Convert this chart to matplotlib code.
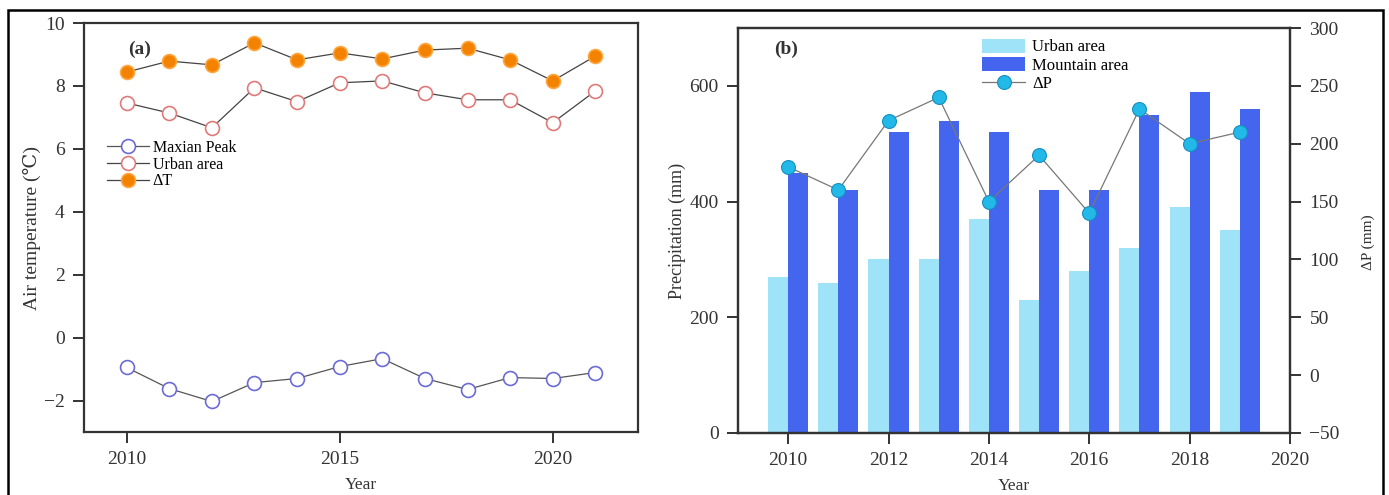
import matplotlib
matplotlib.use("Agg")
import matplotlib.pyplot as plt
from matplotlib.patches import Rectangle

plt.rcParams['font.family'] = ['Liberation Serif', 'DejaVu Serif']

# Panel (a): air temperature
years_a = [2010, 2011, 2012, 2013, 2014, 2015, 2016, 2017, 2018, 2019, 2020, 2021]
maxian = [-0.95, -1.62, -2.03, -1.43, -1.3, -0.92, -0.67, -1.3, -1.65, -1.27, -1.3, -1.11]
urban_t = [7.46, 7.14, 6.67, 7.94, 7.5, 8.1, 8.16, 7.78, 7.56, 7.56, 6.83, 7.84]
delta_t = [8.44, 8.79, 8.67, 9.37, 8.83, 9.05, 8.86, 9.14, 9.2, 8.83, 8.16, 8.95]

# Panel (b): precipitation
years_b = [2010, 2011, 2012, 2013, 2014, 2015, 2016, 2017, 2018, 2019]
urban_p = [270, 260, 300, 300, 370, 230, 280, 320, 390, 350]
mountain_p = [450, 420, 520, 540, 520, 420, 420, 550, 590, 560]
delta_p = [180, 160, 220, 240, 150, 190, 140, 230, 200, 210]

fig = plt.figure(figsize=(13.89, 4.95), dpi=100)

# outer frame
fig.patches.append(Rectangle((0.0058, -0.01), 0.9899, 0.99, transform=fig.transFigure,
                             fill=False, edgecolor='black', linewidth=1.8))

tick_col = '#333333'

# ---- panel a
ax1 = fig.add_axes([0.0605, 0.1273, 0.3988, 0.8262])
ax1.plot(years_a, maxian, '-', color='#555555', lw=0.9, marker='o', ms=10,
         mfc='white', mec='#6b6bd6', mew=1.2, label='Maxian Peak')
ax1.plot(years_a, urban_t, '-', color='#444444', lw=0.9, marker='o', ms=10,
         mfc='white', mec='#e07a7a', mew=1.2, label='Urban area')
ax1.plot(years_a, delta_t, '-', color='#444444', lw=0.9, marker='o', ms=10,
         mfc='#f28200', mec='#ffa640', mew=1.2, label='ΔT')
ax1.set_xlim(2009, 2022)
ax1.set_ylim(-3, 10)
ax1.set_xticks([2010, 2015, 2020])
ax1.set_yticks([-2, 0, 2, 4, 6, 8, 10])
ax1.set_yticklabels(['−2', '0', '2', '4', '6', '8', '10'])
ax1.set_xlabel('Year', fontsize=12.5, color=tick_col, labelpad=6)
ax1.set_ylabel('Air temperature (℃)', fontsize=14, color=tick_col, labelpad=2)
ax1.text(0.08, 0.925, '(a)', transform=ax1.transAxes, fontsize=14, fontweight='bold', color='#333333')
ax1.legend(loc='upper left', bbox_to_anchor=(0.03, 0.73), frameon=False, fontsize=11.5,
           handlelength=2.6, handletextpad=0.25, labelspacing=0.05, borderaxespad=0)

# ---- panel b
ax2 = fig.add_axes([0.5313, 0.1253, 0.3974, 0.8181])
xb_u = [y - 0.2 for y in years_b]
xb_m = [y + 0.2 for y in years_b]
ax2.bar(xb_u, urban_p, width=0.4, color='#9ee3f8', label='Urban area')
ax2.bar(xb_m, mountain_p, width=0.4, color='#4466ee', label='Mountain area')
ax2.set_xlim(2009, 2020)
ax2.set_ylim(0, 700)
ax2.set_yticks([0, 200, 400, 600])
ax2.set_xticks([2010, 2012, 2014, 2016, 2018, 2020])
ax2.set_xlabel('Year', fontsize=12.5, color=tick_col, labelpad=6)
ax2.set_ylabel('Precipitation (mm)', fontsize=13, color=tick_col, labelpad=2)
ax2.text(0.065, 0.935, '(b)', transform=ax2.transAxes, fontsize=14, fontweight='bold', color='#333333')

ax3 = ax2.twinx()
ax3.plot(years_b, delta_p, '-', color='#777777', lw=0.9, marker='o', ms=10,
         mfc='#22b8e8', mec='#1590c0', mew=0.8, label='ΔP')
ax3.set_ylim(-50, 300)
ax3.set_yticks([-50, 0, 50, 100, 150, 200, 250, 300])
ax3.set_yticklabels(['−50', '0', '50', '100', '150', '200', '250', '300'])
ax3.set_ylabel('ΔP (mm)', fontsize=11, color=tick_col)
ax3.yaxis.set_label_coords(1.13, 0.47)

h1, l1 = ax2.get_legend_handles_labels()
h2, l2 = ax3.get_legend_handles_labels()
ax3.legend(h1 + h2, l1 + l2, loc='upper left', bbox_to_anchor=(0.43, 0.99), frameon=False,
           fontsize=12, handlelength=2.6, handleheight=0.9, handletextpad=0.4,
           labelspacing=0.1, borderaxespad=0)

for ax in (ax1, ax2, ax3):
    for s in ax.spines.values():
        s.set_linewidth(1.6)
        s.set_color('#333333')
    ax.tick_params(direction='out', length=8, width=1.4, color='#333333', pad=6,
                   labelsize=14, labelcolor=tick_col)
ax1.tick_params(top=False, right=False)

fig.savefig('out.png', dpi=100)
